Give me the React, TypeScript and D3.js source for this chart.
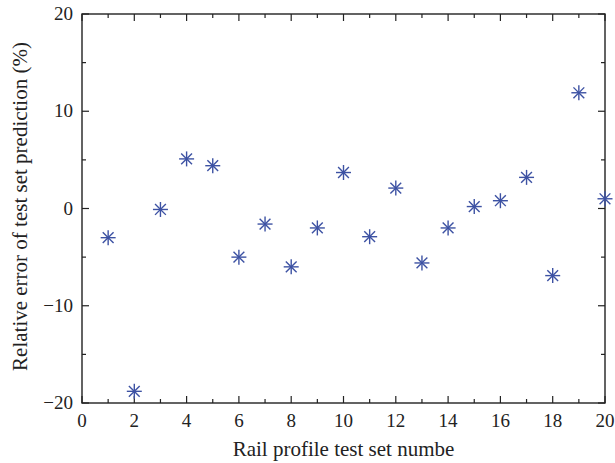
import React, { useEffect } from "react";
import * as d3 from "d3";

// test set index and relative error (%)
const sampleIds = [1, 2, 3, 4, 5, 6, 7, 8, 9, 10, 11, 12, 13, 14, 15, 16, 17, 18, 19, 20];
const relError = [-3.0, -18.8, -0.1, 5.1, 4.4, -5.0, -1.6, -6.0, -2.0, 3.7, -2.9, 2.1, -5.6, -2.0, 0.2, 0.8, 3.2, -6.9, 11.9, 1.0];
const xMajorTicks = [0, 2, 4, 6, 8, 10, 12, 14, 16, 18, 20];
const yMajorTicks = [-20, -10, 0, 10, 20];

const W = 615;
const H = 463;
const margin = { top: 14, right: 10, bottom: 60, left: 82 };
const font = "'Liberation Serif', 'DejaVu Serif', serif";
const markColor = "#3d52a3";

export default function App() {
  useEffect(() => {
    document.body.style.margin = "0";
  }, []);

  const x = d3.scaleLinear().domain([0, 20]).range([margin.left, W - margin.right]);
  const y = d3.scaleLinear().domain([-20, 20]).range([H - margin.bottom, margin.top]);
  const x0 = x.range()[0], x1 = x.range()[1];
  const y0 = y.range()[0], y1 = y.range()[1];

  const xMinor = d3.range(1, 20, 2);
  const yMinor = [-15, -5, 5, 15];
  const major = 7;
  const minor = 4;
  const s = 7.5;

  return (
    <svg width={W} height={H} style={{ display: "block", background: "#fff" }}>
      <g stroke="#222" strokeWidth={1.2}>
        {xMajorTicks.map((t) => (
          <g key={"xm" + t}>
            <line x1={x(t)} x2={x(t)} y1={y0} y2={y0 - major} />
            <line x1={x(t)} x2={x(t)} y1={y1} y2={y1 + major} />
          </g>
        ))}
        {xMinor.map((t) => (
          <g key={"xn" + t}>
            <line x1={x(t)} x2={x(t)} y1={y0} y2={y0 - minor} />
            <line x1={x(t)} x2={x(t)} y1={y1} y2={y1 + minor} />
          </g>
        ))}
        {yMajorTicks.map((t) => (
          <g key={"ym" + t}>
            <line x1={x0} x2={x0 + major} y1={y(t)} y2={y(t)} />
            <line x1={x1} x2={x1 - major} y1={y(t)} y2={y(t)} />
          </g>
        ))}
        {yMinor.map((t) => (
          <g key={"yn" + t}>
            <line x1={x0} x2={x0 + minor} y1={y(t)} y2={y(t)} />
            <line x1={x1} x2={x1 - minor} y1={y(t)} y2={y(t)} />
          </g>
        ))}
        <rect x={x0} y={y1} width={x1 - x0} height={y0 - y1} fill="none" strokeWidth={1.4} />
      </g>

      <g fontFamily={font} fill="#222">
        {xMajorTicks.map((t) => (
          <text key={"xl" + t} x={x(t)} y={y0 + 24} textAnchor="middle" fontSize={19}>{t}</text>
        ))}
        {yMajorTicks.map((t) => (
          <text key={"yl" + t} x={x0 - 9} y={y(t) + 6} textAnchor="end" fontSize={19}>
            {t < 0 ? "\u2212" + Math.abs(t) : t}
          </text>
        ))}
        <text x={(x0 + x1) / 2} y={456} textAnchor="middle" fontSize={21}>Rail profile test set numbe</text>
        <text transform={`translate(27,${(y0 + y1) / 2 - 2}) rotate(-90)`} textAnchor="middle" fontSize={21}>
          Relative error of test set prediction (%)
        </text>
      </g>

      <g stroke={markColor} strokeWidth={1.4}>
        {sampleIds.map((id, i) => {
          const cx = x(id), cy = y(relError[i]);
          const d = s * 0.72;
          return (
            <g key={"p" + id}>
              <line x1={cx - s} x2={cx + s} y1={cy} y2={cy} />
              <line x1={cx} x2={cx} y1={cy - s} y2={cy + s} />
              <line x1={cx - d} x2={cx + d} y1={cy - d} y2={cy + d} />
              <line x1={cx - d} x2={cx + d} y1={cy + d} y2={cy - d} />
            </g>
          );
        })}
      </g>
    </svg>
  );
}
